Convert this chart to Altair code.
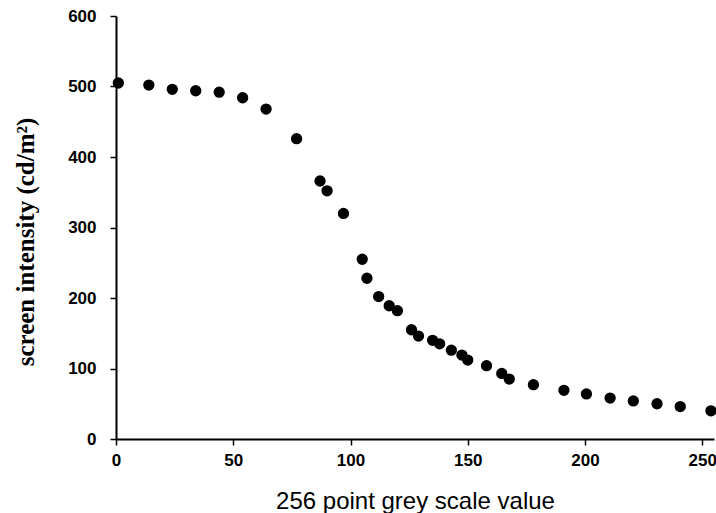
import altair as alt
import pandas as pd

# grey level sent to the display (0-255) and measured luminance (cd/m^2)
grey_level = [1, 14, 24, 34, 44, 54, 64, 77, 87, 90, 97, 105, 107, 112, 116.5,
              120, 126, 129, 135, 138, 143, 147.5, 150, 158, 164.5, 167.7, 178,
              191, 200.6, 210.7, 220.6, 230.7, 240.6, 253.7]
luminance = [505, 502, 496, 494, 492, 484, 468, 426, 366, 352, 320, 255, 228,
             202, 189, 182, 155, 146, 140, 135, 126, 119, 112, 104, 93, 85, 77,
             69, 64, 58, 54, 50, 46, 40]

x_ticks = [0, 50, 100, 150, 200, 250]
y_ticks = [0, 100, 200, 300, 400, 500, 600]

df = pd.DataFrame({"grey": grey_level, "lum": luminance})

W, H = 598, 423

chart = (
    alt.Chart(df)
    .mark_circle(size=128, color="black", opacity=1)
    .encode(
        x=alt.X(
            "grey:Q",
            scale=alt.Scale(domain=[0, 255], nice=False, zero=True),
            axis=alt.Axis(
                values=x_ticks,
                title="256 point grey scale value",
                titleFont="Liberation Sans",
                titleFontSize=24,
                titleFontWeight="normal",
                titleColor="black",
                titleX=W / 2,
                titleY=69,
                titleBaseline="alphabetic",
                titleAlign="center",
                labelFont="Liberation Sans",
                labelFontSize=17,
                labelFontWeight="bold",
                labelColor="black",
                labelPadding=7,
                labelFlush=False,
                labelOverlap=False,
            ),
        ),
        y=alt.Y(
            "lum:Q",
            scale=alt.Scale(domain=[0, 600], nice=False),
            axis=alt.Axis(
                values=y_ticks,
                title="screen intensity (cd/m²)",
                titleFont="Liberation Serif",
                titleFontSize=25,
                titleFontWeight="bold",
                titleColor="black",
                titleAngle=-90,
                titleX=-83,
                titleY=225.5,
                titleBaseline="alphabetic",
                titleAlign="center",
                labelFont="Liberation Sans",
                labelFontSize=17,
                labelFontWeight="bold",
                labelColor="black",
                labelPadding=14,
                labelFlush=False,
                labelOverlap=False,
            ),
        ),
    )
    .properties(
        width=W,
        height=H,
        autosize=alt.AutoSizeParams(type="none"),
        padding={"left": 116, "top": 16, "right": 2, "bottom": 74},
    )
    .configure_axis(
        grid=False,
        domainColor="black",
        domainWidth=2,
        tickColor="black",
        tickWidth=1.5,
        tickSize=6,
    )
    .configure_view(stroke=None)
)

chart.save("out.html", embed_options={"renderer": "svg", "actions": False})
